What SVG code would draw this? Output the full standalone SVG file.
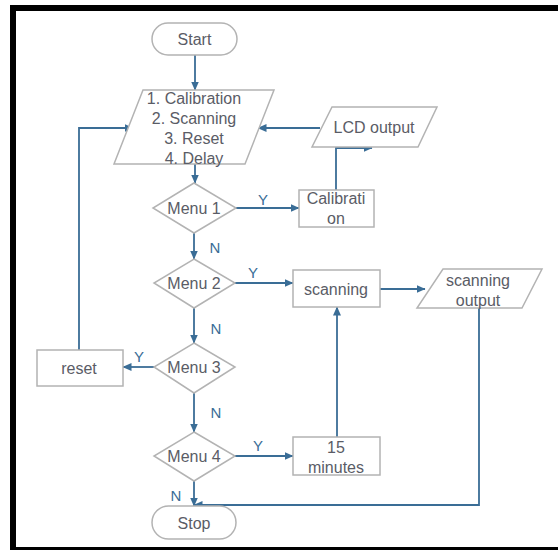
<svg xmlns="http://www.w3.org/2000/svg" width="558" height="550" viewBox="0 0 558 550">
<defs>
<marker id="ah" markerWidth="9" markerHeight="8" refX="8.5" refY="4" orient="auto" markerUnits="userSpaceOnUse">
<path d="M0,0 L9,4 L0,8 Z" fill="#3a6d96"/>
</marker>
<style>
.sh{fill:#ffffff;stroke:#b3b3b3;stroke-width:1.5}
.tx{font-family:"Liberation Sans",Arial,sans-serif;font-size:16px;fill:#5a5c66;text-anchor:middle;dominant-baseline:central}
.cn{fill:none;stroke:#3a6d96;stroke-width:1.8;marker-end:url(#ah)}
.pl{fill:none;stroke:#3a6d96;stroke-width:1.8}
.lb{font-family:"Liberation Sans",Arial,sans-serif;font-size:15px;fill:#3a6d96;text-anchor:middle;dominant-baseline:central}
</style>
</defs>
<rect x="0" y="0" width="558" height="550" fill="#ffffff"/>
<g id="frame" fill="#000000">
<rect x="10" y="5" width="548" height="6"/>
<rect x="10" y="5" width="6" height="545"/>
<rect x="10" y="547" width="548" height="3"/>
</g>
<g id="connectors">
<path class="cn" d="M195,55 V90"/>
<path class="cn" d="M195,164 V183"/>
<path class="cn" d="M236,208 H299"/>
<path class="cn" d="M336,190 V148 H372"/>
<path class="cn" d="M320,128 H258"/>
<path class="cn" d="M79,350 V128 H133"/>
<path class="cn" d="M194,233 V259"/>
<path class="cn" d="M235,283 H293"/>
<path class="cn" d="M194,308 V343"/>
<path class="cn" d="M154,367 H123"/>
<path class="cn" d="M194,393 V432"/>
<path class="cn" d="M235,456 H293"/>
<path class="cn" d="M194,481 V506"/>
<path class="cn" d="M380,289 H425"/>
<path class="cn" d="M337,437 V307"/>
<path class="cn" d="M479,303 V505 H194"/>
<text class="lb" x="263" y="199">Y</text>
<text class="lb" x="215" y="247">N</text>
<text class="lb" x="253" y="272">Y</text>
<text class="lb" x="216" y="328">N</text>
<text class="lb" x="139" y="356">Y</text>
<text class="lb" x="216" y="412">N</text>
<text class="lb" x="258" y="445">Y</text>
<text class="lb" x="176" y="495">N</text>
</g>
<g id="start">
<rect class="sh" x="152" y="23" width="85" height="32" rx="16"/>
<text class="tx" x="194.5" y="39">Start</text>
</g>
<g id="menu-input">
<polygon class="sh" points="143,90 274,90 245,164 114,164"/>
<text class="tx" x="194" y="98">1. Calibration</text>
<text class="tx" x="194" y="118">2. Scanning</text>
<text class="tx" x="194" y="138">3. Reset</text>
<text class="tx" x="194" y="158">4. Delay</text>
</g>
<g id="lcd-output">
<polygon class="sh" points="332,107 437,107 418,147 312,147"/>
<text class="tx" x="374" y="127">LCD output</text>
</g>
<g id="calibration">
<rect class="sh" x="299" y="190" width="75" height="37"/>
<text class="tx" x="336" y="198">Calibrati</text>
<text class="tx" x="336" y="218">on</text>
</g>
<g id="menu1">
<polygon class="sh" points="194,183 236,208 194,233 153,208"/>
<text class="tx" x="194" y="208">Menu 1</text>
</g>
<g id="menu2">
<polygon class="sh" points="194,259 235,283 194,308 154,283"/>
<text class="tx" x="194" y="283">Menu 2</text>
</g>
<g id="menu3">
<polygon class="sh" points="194,343 235,367 194,393 154,367"/>
<text class="tx" x="194" y="367">Menu 3</text>
</g>
<g id="menu4">
<polygon class="sh" points="194,432 235,456 194,481 154,456"/>
<text class="tx" x="194" y="456">Menu 4</text>
</g>
<g id="reset">
<rect class="sh" x="37" y="350" width="86" height="36"/>
<text class="tx" x="79" y="368">reset</text>
</g>
<g id="scanning">
<rect class="sh" x="293" y="270" width="87" height="37"/>
<text class="tx" x="336" y="289">scanning</text>
</g>
<g id="scanning-output">
<polygon class="sh" points="443,269 542,269 522,308 417,308"/>
<text class="tx" x="478" y="280">scanning</text>
<text class="tx" x="478" y="300">output</text>
</g>
<g id="minutes">
<rect class="sh" x="293" y="437" width="87" height="38"/>
<text class="tx" x="336" y="447">15</text>
<text class="tx" x="336" y="467">minutes</text>
</g>
<g id="stop">
<rect class="sh" x="152" y="506" width="84" height="33" rx="16.5"/>
<text class="tx" x="194" y="523">Stop</text>
</g>
</svg>
